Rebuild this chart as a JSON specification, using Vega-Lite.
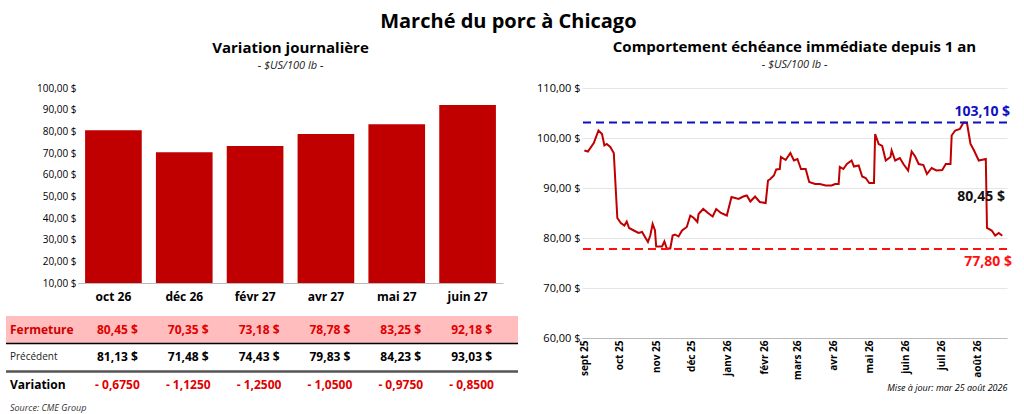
{
  "$schema": "https://vega.github.io/schema/vega-lite/v6.json",
  "padding": {"left": 4, "right": 6, "top": 12, "bottom": 2},
  "background": "white",
  "spacing": 16,
  "title": {"text": "Marché du porc à Chicago", "fontSize": 20, "font": "Open Sans", "fontWeight": "bold", "anchor": "middle", "offset": 8},
  "config": {
    "view": {"stroke": null},
    "font": "Open Sans",
    "axis": {"labelColor": "black", "labelFont": "Open Sans", "titleFont": "Open Sans"},
    "title": {"font": "Open Sans", "subtitleFont": "Open Sans", "subtitleFontStyle": "italic", "subtitleFontSize": 11, "subtitleColor": "#222", "fontSize": 15, "fontWeight": "bold", "offset": 12, "subtitlePadding": 4}
  },
  "datasets": {
    "bars": [
      {"mois": "oct 26", "fermeture": 80.45},
      {"mois": "déc 26", "fermeture": 70.35},
      {"mois": "févr 27", "fermeture": 73.18},
      {"mois": "avr 27", "fermeture": 78.78},
      {"mois": "mai 27", "fermeture": 83.25},
      {"mois": "juin 27", "fermeture": 92.18}
    ],
    "labels": [
      {"row": 0, "kind": "label", "text": "Fermeture"},
      {"row": 1, "kind": "label2", "text": "Précédent"},
      {"row": 2, "kind": "label", "text": "Variation"},
      {"row": 2.85, "kind": "source", "text": "Source: CME Group"}
    ],
    "table": [
      {"col": "oct 26", "row": 0, "kind": "red", "text": "80,45   $"},
      {"col": "déc 26", "row": 0, "kind": "red", "text": "70,35   $"},
      {"col": "févr 27", "row": 0, "kind": "red", "text": "73,18   $"},
      {"col": "avr 27", "row": 0, "kind": "red", "text": "78,78   $"},
      {"col": "mai 27", "row": 0, "kind": "red", "text": "83,25   $"},
      {"col": "juin 27", "row": 0, "kind": "red", "text": "92,18   $"},
      {"col": "oct 26", "row": 1, "kind": "black", "text": "81,13   $"},
      {"col": "déc 26", "row": 1, "kind": "black", "text": "71,48   $"},
      {"col": "févr 27", "row": 1, "kind": "black", "text": "74,43   $"},
      {"col": "avr 27", "row": 1, "kind": "black", "text": "79,83   $"},
      {"col": "mai 27", "row": 1, "kind": "black", "text": "84,23   $"},
      {"col": "juin 27", "row": 1, "kind": "black", "text": "93,03   $"},
      {"col": "oct 26", "row": 2, "kind": "red", "text": "- 0,6750"},
      {"col": "déc 26", "row": 2, "kind": "red", "text": "- 1,1250"},
      {"col": "févr 27", "row": 2, "kind": "red", "text": "- 1,2500"},
      {"col": "avr 27", "row": 2, "kind": "red", "text": "- 1,0500"},
      {"col": "mai 27", "row": 2, "kind": "red", "text": "- 0,9750"},
      {"col": "juin 27", "row": 2, "kind": "red", "text": "- 0,8500"}
    ],
    "prix": [
      {"date": "2025-09-01", "v": 97.5}, {"date": "2025-09-04", "v": 97.3}, {"date": "2025-09-09", "v": 99},
      {"date": "2025-09-13", "v": 101.5}, {"date": "2025-09-16", "v": 100.8}, {"date": "2025-09-18", "v": 98.5},
      {"date": "2025-09-20", "v": 98.8}, {"date": "2025-09-23", "v": 98.2}, {"date": "2025-09-26", "v": 97},
      {"date": "2025-09-29", "v": 84}, {"date": "2025-10-02", "v": 83}, {"date": "2025-10-05", "v": 82.5},
      {"date": "2025-10-07", "v": 83.3}, {"date": "2025-10-09", "v": 82}, {"date": "2025-10-13", "v": 81.5},
      {"date": "2025-10-17", "v": 81}, {"date": "2025-10-20", "v": 81.2}, {"date": "2025-10-23", "v": 80},
      {"date": "2025-10-25", "v": 79.2}, {"date": "2025-10-27", "v": 80.5}, {"date": "2025-10-29", "v": 82.8},
      {"date": "2025-10-31", "v": 81.5}, {"date": "2025-11-01", "v": 78.3}, {"date": "2025-11-06", "v": 78.3},
      {"date": "2025-11-08", "v": 79.3}, {"date": "2025-11-10", "v": 77.9}, {"date": "2025-11-13", "v": 77.9},
      {"date": "2025-11-15", "v": 80.5}, {"date": "2025-11-17", "v": 80.7}, {"date": "2025-11-20", "v": 80.3},
      {"date": "2025-11-23", "v": 81.5}, {"date": "2025-11-27", "v": 82.2}, {"date": "2025-11-30", "v": 84.5},
      {"date": "2025-12-03", "v": 84}, {"date": "2025-12-06", "v": 83.2}, {"date": "2025-12-07", "v": 84.8},
      {"date": "2025-12-11", "v": 85.8}, {"date": "2025-12-15", "v": 85}, {"date": "2025-12-19", "v": 84.3},
      {"date": "2025-12-22", "v": 85.8}, {"date": "2025-12-26", "v": 85}, {"date": "2025-12-31", "v": 84.5},
      {"date": "2026-01-04", "v": 88.2}, {"date": "2026-01-10", "v": 87.8}, {"date": "2026-01-14", "v": 88.3},
      {"date": "2026-01-17", "v": 88.5}, {"date": "2026-01-20", "v": 87.3}, {"date": "2026-01-24", "v": 88.3},
      {"date": "2026-01-28", "v": 87.2}, {"date": "2026-02-02", "v": 87}, {"date": "2026-02-04", "v": 91.5},
      {"date": "2026-02-06", "v": 91.8}, {"date": "2026-02-09", "v": 92.5}, {"date": "2026-02-11", "v": 93.7},
      {"date": "2026-02-14", "v": 93.8}, {"date": "2026-02-15", "v": 96.2}, {"date": "2026-02-19", "v": 95.6},
      {"date": "2026-02-23", "v": 97}, {"date": "2026-02-26", "v": 95.5}, {"date": "2026-03-01", "v": 95.8},
      {"date": "2026-03-04", "v": 93.8}, {"date": "2026-03-08", "v": 93.8}, {"date": "2026-03-11", "v": 91.2},
      {"date": "2026-03-16", "v": 90.8}, {"date": "2026-03-20", "v": 90.8}, {"date": "2026-03-25", "v": 90.5},
      {"date": "2026-03-30", "v": 90.5}, {"date": "2026-04-02", "v": 90.8}, {"date": "2026-04-05", "v": 90.8},
      {"date": "2026-04-06", "v": 94.2}, {"date": "2026-04-09", "v": 93.8}, {"date": "2026-04-12", "v": 94.8},
      {"date": "2026-04-16", "v": 95.5}, {"date": "2026-04-18", "v": 94.3}, {"date": "2026-04-22", "v": 94.5},
      {"date": "2026-04-25", "v": 92.3}, {"date": "2026-04-28", "v": 92}, {"date": "2026-05-01", "v": 91},
      {"date": "2026-05-05", "v": 91}, {"date": "2026-05-06", "v": 100.8}, {"date": "2026-05-09", "v": 98.8},
      {"date": "2026-05-12", "v": 98.4}, {"date": "2026-05-15", "v": 95.5}, {"date": "2026-05-19", "v": 96.2},
      {"date": "2026-05-20", "v": 97.5}, {"date": "2026-05-23", "v": 95.5}, {"date": "2026-05-27", "v": 96},
      {"date": "2026-05-30", "v": 94.8}, {"date": "2026-06-03", "v": 93.5}, {"date": "2026-06-06", "v": 97.3},
      {"date": "2026-06-09", "v": 96.3}, {"date": "2026-06-12", "v": 94.8}, {"date": "2026-06-16", "v": 94.6},
      {"date": "2026-06-19", "v": 92.8}, {"date": "2026-06-23", "v": 94}, {"date": "2026-06-27", "v": 93.5},
      {"date": "2026-07-02", "v": 93.6}, {"date": "2026-07-05", "v": 94.8}, {"date": "2026-07-09", "v": 94.8},
      {"date": "2026-07-10", "v": 100.5}, {"date": "2026-07-13", "v": 101.5}, {"date": "2026-07-17", "v": 101.8},
      {"date": "2026-07-20", "v": 103.1}, {"date": "2026-07-23", "v": 103}, {"date": "2026-07-26", "v": 98.8},
      {"date": "2026-07-29", "v": 97.5}, {"date": "2026-08-02", "v": 95.5}, {"date": "2026-08-08", "v": 95.8},
      {"date": "2026-08-09", "v": 82}, {"date": "2026-08-13", "v": 81.5}, {"date": "2026-08-16", "v": 80.5},
      {"date": "2026-08-19", "v": 81}, {"date": "2026-08-22", "v": 80.45}
    ]
  },
  "hconcat": [
    {
      "spacing": 14,
      "resolve": {"scale": {"x": "independent", "y": "independent"}},
      "vconcat": [
        {
          "title": {"text": "Variation journalière", "subtitle": "- $US/100 lb -"},
          "width": 425,
          "height": 195,
          "data": {"name": "bars"},
          "mark": {"type": "bar", "color": "#C00000"},
          "encoding": {
            "x": {"field": "mois", "type": "nominal", "sort": null, "scale": {"paddingInner": 0.2, "paddingOuter": 0.1},
              "axis": {"title": null, "labelAngle": 0, "labelFontSize": 12, "labelFontWeight": "bold", "ticks": false, "domainColor": "#bbb", "labelPadding": 8}},
            "y": {"field": "fermeture", "type": "quantitative", "scale": {"domain": [10, 100]},
              "axis": {"title": null, "grid": false, "domain": false, "ticks": false, "labelOverlap": false, "values": [10,20,30,40,50,60,70,80,90,100], "labelFontSize": 10, "minExtent": 70, "maxExtent": 70,
                "labelExpr": "replace(format(datum.value, '.2f'), '.', ',') + ' $'"}},
            "y2": {"datum": 10}
          }
        },
        {
          "width": 425,
          "height": 96,
          "layer": [
            {
              "data": {"values": [{"a": 0, "b": 1}]},
              "mark": {"type": "rect", "color": "#FFBDBD"},
              "encoding": {"x": {"value": -72}, "x2": {"value": 440},
                "y": {"field": "a", "type": "quantitative", "scale": {"domain": [0, 3.2], "reverse": true},
                  "axis": {"title": null, "grid": false, "domain": false, "ticks": false, "labels": false, "minExtent": 70, "maxExtent": 70}},
                "y2": {"field": "b"}}
            },
            {
              "data": {"values": [{"a": 1}]},
              "mark": {"type": "rule", "color": "black", "strokeWidth": 1.5},
              "encoding": {"x": {"value": -72}, "x2": {"value": 440}, "y": {"field": "a", "type": "quantitative"}}
            },
            {
              "data": {"values": [{"a": 2.02}]},
              "mark": {"type": "rule", "color": "#555", "strokeWidth": 2.5},
              "encoding": {"x": {"value": -72}, "x2": {"value": 440}, "y": {"field": "a", "type": "quantitative"}}
            },
            {
              "data": {"name": "labels"},
              "transform": [{"filter": "datum.kind == 'label'"}, {"calculate": "datum.row + 0.5", "as": "ym"}],
              "mark": {"type": "text", "align": "left", "fontSize": 12, "fontWeight": "bold"},
              "encoding": {
                "x": {"value": -68},
                "y": {"field": "ym", "type": "quantitative"},
                "text": {"field": "text"},
                "color": {"condition": {"test": "datum.row == 0", "value": "#D00000"}, "value": "black"}
              }
            },
            {
              "data": {"name": "labels"},
              "transform": [{"filter": "datum.kind == 'label2'"}, {"calculate": "datum.row + 0.5", "as": "ym"}],
              "mark": {"type": "text", "align": "left", "fontSize": 10, "color": "#222"},
              "encoding": {"x": {"value": -68}, "y": {"field": "ym", "type": "quantitative"}, "text": {"field": "text"}}
            },
            {
              "data": {"name": "labels"},
              "transform": [{"filter": "datum.kind == 'source'"}, {"calculate": "datum.row + 0.5", "as": "ym"}],
              "mark": {"type": "text", "align": "left", "fontSize": 9, "fontStyle": "italic", "color": "#333"},
              "encoding": {"x": {"value": -68}, "y": {"field": "ym", "type": "quantitative"}, "text": {"field": "text"}}
            },
            {
              "data": {"name": "table"},
              "transform": [{"calculate": "datum.row + 0.5", "as": "ym"}],
              "mark": {"type": "text", "fontSize": 12, "fontWeight": "bold", "dx": 4},
              "encoding": {
                "x": {"field": "col", "type": "nominal", "sort": null, "scale": {"paddingInner": 0.2, "paddingOuter": 0.1}, "axis": null},
                "y": {"field": "ym", "type": "quantitative"},
                "text": {"field": "text"},
                "color": {"condition": {"test": "datum.kind == 'red'", "value": "#E00000"}, "value": "black"}
              }
            }
          ]
        }
      ]
    },
    {
      "title": {"text": "Comportement  échéance immédiate depuis 1 an", "subtitle": "- $US/100 lb -"},
      "width": 425,
      "height": 250,
      "layer": [
        {
          "data": {"name": "prix"},
          "mark": {"type": "line", "color": "#C00000", "strokeWidth": 2},
          "encoding": {
            "x": {"field": "date", "type": "temporal", "scale": {"domain": [{"year": 2025, "month": 8, "date": 30}, {"year": 2026, "month": 8, "date": 26}]},
              "axis": {"title": "Mise à jour: mar 25 août 2026", "titleAnchor": "end", "titleFontSize": 9, "titleFontStyle": "italic", "titleFontWeight": "normal", "titlePadding": 4,
                "tickCount": {"interval": "month", "step": 1}, "labelAngle": -90, "labelFontSize": 10, "labelFontWeight": "bold", "grid": false, "domainColor": "#bbb", "ticks": false,
                "labelExpr": "['janv','févr','mars','avr','mai','juin','juil','août','sept','oct','nov','déc'][month(datum.value)] + ' ' + timeFormat(datum.value, '%y')"}},
            "y": {"field": "v", "type": "quantitative", "scale": {"domain": [60, 110]},
              "axis": {"title": null, "values": [60,65,70,75,80,85,90,95,100,105,110], "labelOverlap": false, "gridColor": "#e5e5e5", "domain": false, "ticks": false, "labelFontSize": 11,
                "labelExpr": "replace(format(datum.value, '.2f'), '.', ',') + ' $'"}}
          }
        },
        {
          "data": {"values": [{"v": 103.1, "c": "blue"}, {"v": 77.8, "c": "red"}]},
          "mark": {"type": "rule", "strokeDash": [8, 5], "strokeWidth": 2},
          "encoding": {"y": {"field": "v", "type": "quantitative"},
            "color": {"condition": {"test": "datum.c == 'blue'", "value": "#1010C0"}, "value": "#FF1010"}}
        },
        {
          "data": {"values": [
            {"date": "2026-08-05", "v": 105.3, "t": "103,10 $", "c": "blue"},
            {"date": "2026-08-10", "v": 75.3, "t": "77,80 $", "c": "red"},
            {"date": "2026-08-04", "v": 88.3, "t": "80,45 $", "c": "black"}
          ]},
          "mark": {"type": "text", "fontSize": 14, "fontWeight": "bold"},
          "encoding": {"x": {"field": "date", "type": "temporal"}, "y": {"field": "v", "type": "quantitative"}, "text": {"field": "t"},
            "color": {"condition": [{"test": "datum.c == 'blue'", "value": "#1010C0"}, {"test": "datum.c == 'red'", "value": "#FF1010"}], "value": "#111"}}
        }
      ]
    }
  ]
}
